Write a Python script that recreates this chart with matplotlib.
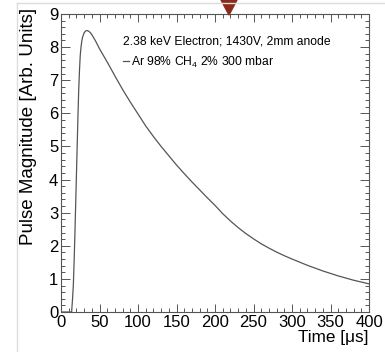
import matplotlib.pyplot as plt
from matplotlib.ticker import MultipleLocator
from matplotlib.patches import Polygon
from matplotlib.lines import Line2D

plt.rcParams['font.family'] = ['Liberation Sans', 'DejaVu Sans']

# pulse shape
time_us = [0, 10, 13.8, 15, 16, 17, 18, 19, 20, 21, 22, 23, 24, 25, 26, 27, 28,
           30, 32, 34, 36, 38, 40, 45, 50, 55, 60, 70, 80, 90, 100, 110, 120,
           130, 140, 150, 160, 170, 180, 190, 200, 210, 220, 230, 240, 250, 260,
           270, 280, 290, 300, 320, 340, 360, 380, 400]
magnitude = [0, 0, 0, 0.4, 0.8, 1.5, 2.3, 3.2, 4.1, 5.0, 5.9, 6.7, 7.3, 7.75, 8.0, 8.18, 8.3,
             8.43, 8.49, 8.5, 8.48, 8.44, 8.38, 8.18, 7.95, 7.75, 7.55, 7.13, 6.72, 6.34, 5.98, 5.62, 5.3,
             5.0, 4.72, 4.44, 4.18, 3.93, 3.69, 3.45, 3.22, 2.97, 2.75, 2.55, 2.37, 2.21, 2.06,
             1.93, 1.81, 1.70, 1.60, 1.41, 1.24, 1.09, 0.96, 0.85]

title_text = '2.38 keV Electron; 1430V, 2mm anode'
series_label = r'Ar 98% CH$_{\mathregular{4}}$ 2% 300 mbar'

fig = plt.figure(figsize=(3.85, 3.52), dpi=100)
ax = fig.add_axes([61 / 385, 40 / 352, 308 / 385, 298 / 352])

ax.plot(time_us, magnitude, color='#555555', lw=0.9, label=series_label)

ax.set_xlim(0, 400)
ax.set_ylim(0, 9)
ax.xaxis.set_major_locator(MultipleLocator(50))
ax.xaxis.set_minor_locator(MultipleLocator(10))
ax.yaxis.set_major_locator(MultipleLocator(1))
ax.yaxis.set_minor_locator(MultipleLocator(0.2))
ax.tick_params(which='both', direction='in', top=True, right=True,
               color='#555555', width=0.7, labelsize=12)
ax.tick_params(axis='y', which='major', length=6.5, pad=2)
ax.tick_params(axis='y', which='minor', length=3.2)
ax.tick_params(axis='x', which='major', length=5.5, pad=2.5)
ax.tick_params(axis='x', which='minor', length=3)
for s in ax.spines.values():
    s.set_color('#555555')
    s.set_linewidth(0.8)

ax.set_xlabel('Time [μs]', loc='right', fontsize=12.3)
ax.set_ylabel('Pulse Magnitude [Arb. Units]', loc='top', fontsize=13.5)
ax.xaxis.set_label_coords(1.0, -0.062)
ax.yaxis.set_label_coords(-0.079, 1.02)

leg = ax.legend(loc='upper left', bbox_to_anchor=(0.174, 0.955), frameon=False,
                title=title_text, title_fontsize=8.7, fontsize=8.7,
                handlelength=0.5, handletextpad=0.15, borderpad=0.2,
                labelspacing=0.55)
leg._legend_box.align = 'left'

# page artefacts: border lines and marker triangle
fig.add_artist(Line2D([17 / 385, 17 / 385], [0, 349 / 352], color='#dddddd', lw=1))
fig.add_artist(Line2D([17 / 385, 1], [349 / 352, 349 / 352], color='#dddddd', lw=1))
fig.add_artist(Polygon([[221 / 385, 1], [237 / 385, 1], [229 / 385, 337 / 352]],
                       closed=True, color='#8b2a1a', transform=fig.transFigure))

fig.savefig('out.png', dpi=100)
